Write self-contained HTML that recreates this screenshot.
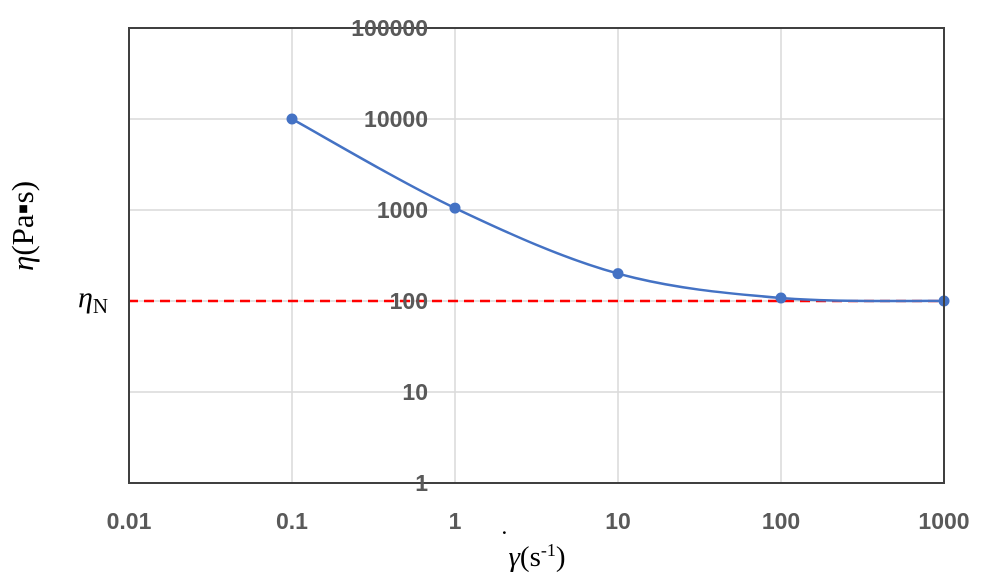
<!DOCTYPE html>
<html><head><meta charset="utf-8"><style>
html,body{margin:0;padding:0;background:#fff;}
svg{display:block;}
.tick{font-family:"Liberation Sans",sans-serif;font-weight:bold;font-size:23px;fill:#595959;}
.ser{font-family:"Liberation Serif",serif;fill:#000;}
</style></head><body>
<svg id="chart" width="1000" height="575" viewBox="0 0 1000 575">
<g id="grid"></g>
<line x1="128" y1="301" x2="944" y2="301" stroke="#ff0000" stroke-width="2.4" stroke-dasharray="10,6" id="refline"/>
<path id="curve" fill="none" stroke="#4472c4" stroke-width="2.5"/>
<g id="pts"></g>
<rect x="129" y="28" width="815" height="455" fill="none" stroke="#404040" stroke-width="2"/>
<g id="ylabels"></g>
<g id="xlabels"></g>
<text class="ser" x="78" y="307" font-size="30" font-style="italic">η<tspan font-style="normal" font-size="21" dy="6">N</tspan></text>
<text class="ser" transform="translate(33,226) rotate(-90)" text-anchor="middle" font-size="31"><tspan font-style="italic">η</tspan>(Pa▪s)</text>
<text class="ser" x="537" y="566" text-anchor="middle" font-size="29"><tspan font-style="italic">γ</tspan>(s<tspan font-size="18" dy="-10">-1</tspan><tspan dy="10">)</tspan></text>
<text class="ser" x="500" y="549" font-size="26">˙</text>
</svg>
<script>
const xTicks=[0.01,0.1,1,10,100,1000];
const xTickLabels=["0.01","0.1","1","10","100","1000"];
const yTicks=[1,10,100,1000,10000,100000];
const yTickLabels=["1","10","100","1000","10000","100000"];
const shearRates=[0.1,1,10,100,1000];
const viscosity=[10000,1050,200,108,100];
const etaN=100;
const NS="http://www.w3.org/2000/svg";
const X0=129,X1=944,Y0=483,Y1=28;
function xs(v){return X0+(Math.log10(v)+2)/5*(X1-X0);}
function ys(v){return Y0-(Math.log10(v))/5*(Y0-Y1);}
function mk(t,a,p){const e=document.createElementNS(NS,t);for(const k in a)e.setAttribute(k,a[k]);p.appendChild(e);return e;}
const grid=document.getElementById('grid');
xTicks.forEach(v=>{const l=mk('line',{x1:xs(v),x2:xs(v),y1:Y1,y2:Y0,stroke:'#d9d9d9','stroke-width':1.5},grid);

});
yTicks.forEach(v=>{const l=mk('line',{x1:X0,x2:X1,y1:ys(v),y2:ys(v),stroke:'#d9d9d9','stroke-width':1.5},grid);

});
const xl=document.getElementById('xlabels');
xTicks.forEach((v,i)=>{const t=mk('text',{x:xs(v),y:529,'text-anchor':'middle',class:'tick'},xl);t.textContent=xTickLabels[i];

});
const yl=document.getElementById('ylabels');
yTicks.forEach((v,i)=>{const t=mk('text',{x:xs(1)-27,y:ys(v)+8,'text-anchor':'end',class:'tick'},yl);t.textContent=yTickLabels[i];

});
const rl=document.getElementById('refline');rl.setAttribute('y1',ys(etaN));rl.setAttribute('y2',ys(etaN));
const P=shearRates.map((v,i)=>[xs(v),ys(viscosity[i])]);
let d='M'+P[0][0]+','+P[0][1];
for(let i=0;i<P.length-1;i++){const p0=P[Math.max(0,i-1)],p1=P[i],p2=P[i+1],p3=P[Math.min(P.length-1,i+2)];
const c1=[p1[0]+(p2[0]-p0[0])/6,p1[1]+(p2[1]-p0[1])/6],c2=[p2[0]-(p3[0]-p1[0])/6,p2[1]-(p3[1]-p1[1])/6];
d+=` C${c1[0]},${c1[1]} ${c2[0]},${c2[1]} ${p2[0]},${p2[1]}`;}
document.getElementById('curve').setAttribute('d',d);
const pts=document.getElementById('pts');
P.forEach(p=>{const c=mk('circle',{cx:p[0],cy:p[1],r:5.5,fill:'#4472c4'},pts);

});
</script>
</body></html>
